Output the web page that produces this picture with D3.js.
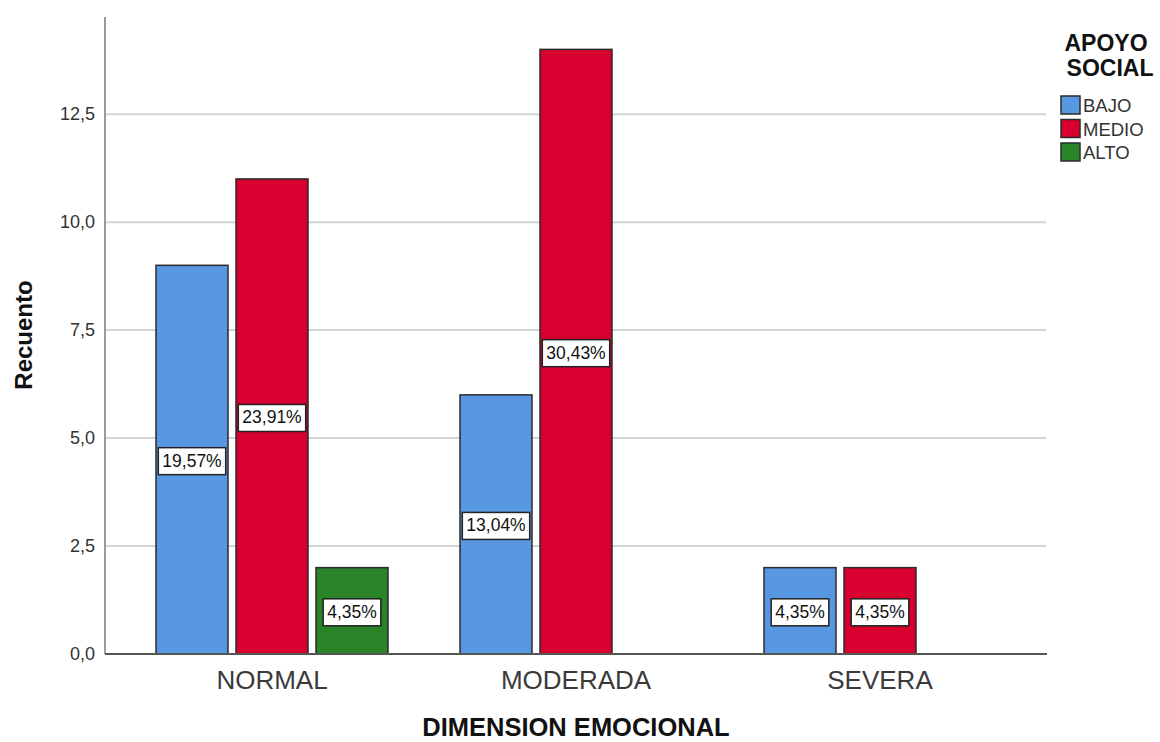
<!DOCTYPE html>
<html>
<head>
<meta charset="utf-8">
<script src="https://cdn.jsdelivr.net/npm/d3@7"></script>
<style>
  body { margin: 0; background: #fff; }
  text { font-family: "Liberation Sans", Arial, sans-serif; }
</style>
</head>
<body>
<svg id="chart" width="1160" height="742"></svg>
<script>
const categories = ["NORMAL", "MODERADA", "SEVERA"];
const series = ["BAJO", "MEDIO", "ALTO"];
const counts = {
  BAJO: [9, 6, 2],
  MEDIO: [11, 14, 2],
  ALTO: [2, 0, 0]
};
const percents = {
  BAJO: ["19,57%", "13,04%", "4,35%"],
  MEDIO: ["23,91%", "30,43%", "4,35%"],
  ALTO: ["4,35%", "", ""]
};
const yTicks = [0, 2.5, 5, 7.5, 10, 12.5];
const colors = { BAJO: "#5897e2", MEDIO: "#d7002f", ALTO: "#2a8229" };

const svg = d3.select("#chart");

const plotLeft = 105, plotRight = 1046, plotTop = 17, plotBottom = 654;

const y = d3.scaleLinear().domain([0, 14.75]).range([plotBottom, plotTop]);
const x0 = d3.scaleBand().domain(categories).range([120, 1032]);
const x1 = d3.scaleBand().domain(series).range([-120, 120])
  .paddingInner(0.1).paddingOuter(0.05);

// gridlines
svg.append("g")
  .selectAll("line")
  .data(yTicks.filter((d) => d > 0))
  .enter()
  .append("line")
  .attr("x1", plotLeft)
  .attr("x2", plotRight)
  .attr("y1", (d) => y(d))
  .attr("y2", (d) => y(d))
  .attr("stroke", "#d4d4d4")
  .attr("stroke-width", 2);

// y axis line
svg.append("line")
  .attr("x1", plotLeft).attr("x2", plotLeft)
  .attr("y1", plotTop).attr("y2", plotBottom)
  .attr("stroke", "#9a9a9a")
  .attr("stroke-width", 2);

// y tick labels
svg.append("g")
  .selectAll("text")
  .data(yTicks)
  .enter()
  .append("text")
  .attr("x", 95)
  .attr("y", (d) => y(d) + 6)
  .attr("text-anchor", "end")
  .style("font-size", "18px")
  .style("fill", "#333")
  .text((d) => d3.format(".1f")(d).replace(".", ","));

// bars
const rows = [];
categories.forEach((c, i) => {
  series.forEach((s) => {
    if (counts[s][i] > 0) rows.push({ cat: c, key: s, value: counts[s][i], pct: percents[s][i] });
  });
});

const barGroup = svg.append("g");
barGroup.selectAll("rect")
  .data(rows)
  .enter()
  .append("rect")
  .attr("x", (d) => x0(d.cat) + x0.bandwidth() / 2 + x1(d.key))
  .attr("y", (d) => y(d.value))
  .attr("width", x1.bandwidth())
  .attr("height", (d) => y(0) - y(d.value))
  .attr("fill", (d) => colors[d.key])
  .attr("stroke", "#2b2b2b")
  .attr("stroke-width", 1.5);

// baseline
svg.append("line")
  .attr("x1", plotLeft).attr("x2", plotRight + 1)
  .attr("y1", plotBottom).attr("y2", plotBottom)
  .attr("stroke", "#555")
  .attr("stroke-width", 2);

// percentage labels
const labels = svg.append("g")
  .selectAll("g")
  .data(rows)
  .enter()
  .append("g")
  .attr("transform", (d) => {
    const cx = x0(d.cat) + x0.bandwidth() / 2 + x1(d.key) + x1.bandwidth() / 2;
    const cy = (y(0) + y(d.value)) / 2 + 1;
    return `translate(${cx},${cy})`;
  });

labels.append("text")
  .attr("text-anchor", "middle")
  .attr("dy", 6)
  .style("font-size", "17.5px")
  .style("fill", "#111")
  .text((d) => d.pct);

labels.each(function () {
  const g = d3.select(this);
  const bb = g.select("text").node().getBBox();
  g.insert("rect", "text")
    .attr("x", bb.x - 4)
    .attr("y", -13)
    .attr("width", bb.width + 8)
    .attr("height", 27)
    .attr("fill", "#fff")
    .attr("stroke", "#222")
    .attr("stroke-width", 1.5);
});

// category labels
svg.append("g")
  .selectAll("text")
  .data(categories)
  .enter()
  .append("text")
  .attr("x", (d) => x0(d) + x0.bandwidth() / 2)
  .attr("y", 689)
  .attr("text-anchor", "middle")
  .style("font-size", "26px")
  .style("fill", "#3a3a3a")
  .text((d) => d);

// axis titles
svg.append("text")
  .attr("x", 576)
  .attr("y", 736)
  .attr("text-anchor", "middle")
  .style("font-size", "25.5px")
  .style("font-weight", "bold")
  .style("fill", "#111")
  .text("DIMENSION EMOCIONAL");

svg.append("text")
  .attr("transform", "translate(32,335) rotate(-90)")
  .attr("text-anchor", "middle")
  .style("font-size", "24px")
  .style("font-weight", "bold")
  .style("fill", "#111")
  .text("Recuento");

// legend
const legend = svg.append("g");
legend.append("text")
  .attr("x", 1106)
  .attr("y", 51)
  .attr("text-anchor", "middle")
  .style("font-size", "23px")
  .style("font-weight", "bold")
  .style("fill", "#111")
  .text("APOYO");
legend.append("text")
  .attr("x", 1110)
  .attr("y", 76)
  .attr("text-anchor", "middle")
  .style("font-size", "23px")
  .style("font-weight", "bold")
  .style("fill", "#111")
  .text("SOCIAL");

const items = legend.selectAll("g.item")
  .data(series)
  .enter()
  .append("g")
  .attr("class", "item")
  .attr("transform", (d, i) => `translate(1061,${96 + i * 23.5})`);

items.append("rect")
  .attr("width", 19)
  .attr("height", 18)
  .attr("fill", (d) => colors[d])
  .attr("stroke", "#2b2b2b")
  .attr("stroke-width", 1.5);

items.append("text")
  .attr("x", 22)
  .attr("y", 16)
  .style("font-size", "18.5px")
  .style("fill", "#333")
  .text((d) => d);
</script>
</body>
</html>
